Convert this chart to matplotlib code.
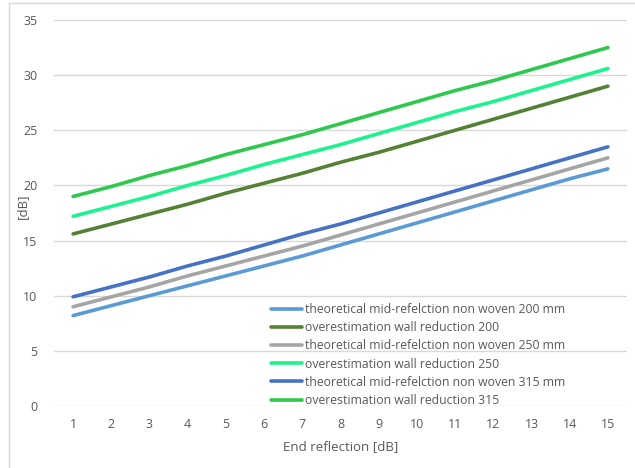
import matplotlib.pyplot as plt
from matplotlib.lines import Line2D

end_reflection = list(range(1, 16))

theo_200 = [8.2, 9.1, 10.0, 10.9, 11.8, 12.7, 13.6, 14.6, 15.6, 16.6, 17.6, 18.6, 19.6, 20.6, 21.5]
wall_200 = [15.6, 16.5, 17.4, 18.3, 19.3, 20.2, 21.1, 22.1, 23.0, 24.0, 25.0, 26.0, 27.0, 28.0, 29.0]
theo_250 = [9.0, 9.9, 10.8, 11.8, 12.7, 13.6, 14.5, 15.5, 16.5, 17.5, 18.5, 19.5, 20.5, 21.5, 22.5]
wall_250 = [17.2, 18.1, 19.0, 20.0, 20.9, 21.9, 22.8, 23.7, 24.7, 25.7, 26.7, 27.6, 28.6, 29.6, 30.6]
theo_315 = [9.9, 10.8, 11.7, 12.7, 13.6, 14.6, 15.6, 16.5, 17.5, 18.5, 19.5, 20.5, 21.5, 22.5, 23.5]
wall_315 = [19.0, 19.9, 20.9, 21.8, 22.8, 23.7, 24.6, 25.6, 26.6, 27.6, 28.6, 29.5, 30.5, 31.5, 32.5]

labels = [
    "theoretical mid-refelction non woven 200 mm",
    "overestimation wall reduction 200",
    "theoretical mid-refelction non woven 250 mm",
    "overestimation wall reduction 250",
    "theoretical mid-refelction non woven 315 mm",
    "overestimation wall reduction 315",
]
colors = ["#5B9BD5", "#548235", "#A5A5A5", "#1CF28E", "#4472C4", "#2DC84D"]
series = [theo_200, wall_200, theo_250, wall_250, theo_315, wall_315]

plt.rcParams["font.family"] = ["Open Sans", "DejaVu Sans"]

fig = plt.figure(figsize=(6.35, 4.68), dpi=100)
W, H = 635, 468
ax = fig.add_axes([54 / W, 1 - 406 / H, (627 - 54) / W, (406 - 20) / H])

for vals, col, lab in zip(series, colors, labels):
    ax.plot(end_reflection, vals, color=col, lw=2.6, label=lab, solid_capstyle="round")

ax.set_xlim(0.5, 15.5)
ax.set_ylim(0, 35)
ax.set_xticks(end_reflection)
ax.set_yticks(range(0, 36, 5))
ax.grid(axis="y", color="#D9D9D9", lw=1)
ax.set_axisbelow(True)
for s in ax.spines.values():
    s.set_visible(False)
ax.tick_params(length=0, labelsize=9, labelcolor="#595959", pad=9)
ax.tick_params(axis="y", pad=12)

fig.text(341 / W, 1 - 447 / H, "End reflection [dB]", ha="center", va="center",
         fontsize=9.5, color="#595959")
fig.text(22 / W, 1 - 206 / H, "[dB]", ha="center", va="center", rotation=90,
         fontsize=9.5, color="#595959")

# chart frame (only top and left edges fall inside the canvas)
fig.add_artist(Line2D([9 / W, 9 / W], [0, 1 - 3 / H], color="#D9D9D9", lw=1))
fig.add_artist(Line2D([9 / W, 1], [1 - 3 / H, 1 - 3 / H], color="#D9D9D9", lw=1))

leg = ax.legend(loc="center left", bbox_to_anchor=(271 / W, 1 - 355 / H),
                bbox_transform=fig.transFigure, frameon=False, fontsize=8.8,
                handlelength=2.5, handletextpad=0.3, labelspacing=0.42,
                borderpad=0, borderaxespad=0)
for t in leg.get_texts():
    t.set_color("#595959")

fig.savefig("out.png", dpi=100)
